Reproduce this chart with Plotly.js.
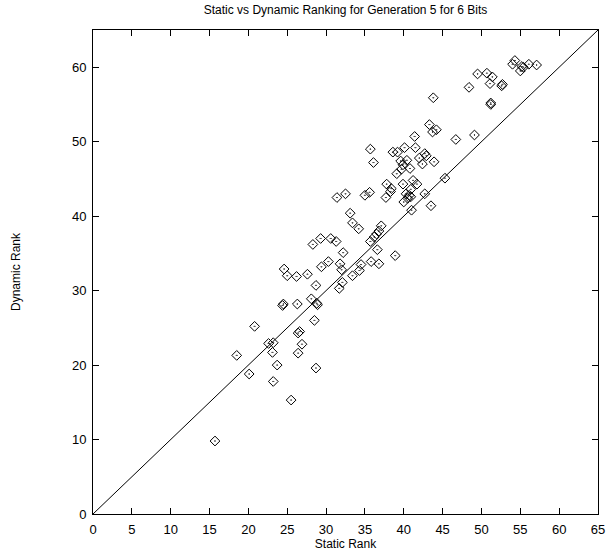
<!DOCTYPE html>
<html>
<head>
<meta charset="utf-8">
<script src="https://cdn.plot.ly/plotly-3.0.1.min.js"></script>
<style>html,body{margin:0;padding:0;background:#fff;}#chart{width:609px;height:556px;}</style>
</head>
<body>
<div id="chart"></div>
<script>
const staticRank = [15.7,18.5,20.1,20.8,22.6,23.2,23.1,23.7,23.2,25.5,24.4,24.5,24.6,25.0,26.2,26.3,26.4,26.6,26.4,26.9,27.6,28.3,28.1,28.5,28.7,28.8,28.9,28.7,29.3,29.4,30.3,30.6,31.3,31.4,31.8,32.0,32.1,31.7,32.2,32.5,33.1,33.4,34.2,33.4,34.5,34.3,35.8,36.8,35.0,35.6,35.7,36.2,36.5,36.8,37.1,36.6,38.9,35.7,36.1,37.7,37.8,38.4,38.3,38.6,39.2,39.1,39.7,40.8,39.6,40.4,39.9,40.1,41.5,39.9,41.2,41.7,40.9,40.3,40.7,40.9,40.5,40.0,41.0,42.7,43.5,42.0,42.7,42.9,42.4,43.9,41.4,43.3,43.7,44.2,43.8,45.3,46.7,49.1,48.4,49.5,50.7,51.4,51.1,52.7,52.6,51.2,51.2,54.3,54.0,55.2,55.4,55.0,56.1,57.1];
const dynamicRank = [9.8,21.3,18.8,25.2,22.9,23.0,21.7,20.0,17.8,15.3,28.0,28.2,32.9,32.0,31.9,28.2,24.3,24.5,21.6,22.8,32.2,36.2,28.9,26.0,30.7,28.3,28.1,19.6,37.0,33.2,33.9,37.0,36.6,42.5,33.6,32.8,31.1,30.3,35.1,43.0,40.4,39.1,38.3,32.0,33.5,32.7,33.9,33.6,42.8,43.2,36.6,37.2,37.6,38.0,38.7,35.5,34.7,49.0,47.2,42.5,44.3,43.7,43.3,48.6,48.6,45.7,46.3,46.4,47.4,47.5,46.9,49.2,49.2,44.3,44.8,44.3,43.6,43.0,42.8,42.6,42.4,41.9,40.8,43.0,41.4,47.8,48.4,48.1,47.0,47.3,50.7,52.3,51.3,51.6,55.9,45.1,50.3,50.9,57.3,59.1,59.2,58.7,57.8,57.7,57.5,55.2,55.0,60.9,60.4,60.1,60.0,59.5,60.4,60.3];
const diagonalX = [0, 65];
const diagonalY = [0, 65];
const xTicks = [0,5,10,15,20,25,30,35,40,45,50,55,60,65];
const yTicks = [0,10,20,30,40,50,60];

const font = 'Liberation Sans, Arial, Helvetica, sans-serif';
const traces = [
  {x: diagonalX, y: diagonalY, type: 'scatter', mode: 'lines',
   line: {color: '#000', width: 1}, hoverinfo: 'skip'},
  {x: staticRank, y: dynamicRank, type: 'scatter', mode: 'markers',
   marker: {symbol: 'diamond-open-dot', size: 7.5, color: '#000', line: {color: '#000', width: 1}}}
];
const axisCommon = {
  showgrid: false, zeroline: false, showline: true, linecolor: '#000', linewidth: 1,
  mirror: 'ticks', ticks: 'inside', ticklen: 6, tickcolor: '#000', tickwidth: 1,
  tickfont: {family: font, size: 13, color: '#000'}
};
const layout = {
  width: 609, height: 556,
  margin: {l: 93, r: 11, t: 30, b: 42},
  paper_bgcolor: '#fff', plot_bgcolor: '#fff',
  showlegend: false,
  title: {text: 'Static vs Dynamic Ranking for Generation 5 for 6 Bits',
          font: {family: font, size: 12, color: '#000'},
          x: 0.5, xref: 'paper', y: 1 - 10/556, yref: 'container', yanchor: 'middle'},
  xaxis: Object.assign({}, axisCommon, {
    range: [0, 65], tickvals: xTicks, ticktext: xTicks.map(String), ticklabelstandoff: 3,
    title: {text: 'Static Rank', font: {family: font, size: 12, color: '#000'}, standoff: 0}
  }),
  yaxis: Object.assign({}, axisCommon, {
    range: [0, 65], tickvals: yTicks, ticktext: yTicks.map(String), ticklabelstandoff: 3,
    title: {text: 'Dynamic Rank', font: {family: font, size: 12, color: '#000'}, standoff: 48}
  })
};
Plotly.newPlot('chart', traces, layout, {displayModeBar: false, staticPlot: true});
</script>
</body>
</html>
